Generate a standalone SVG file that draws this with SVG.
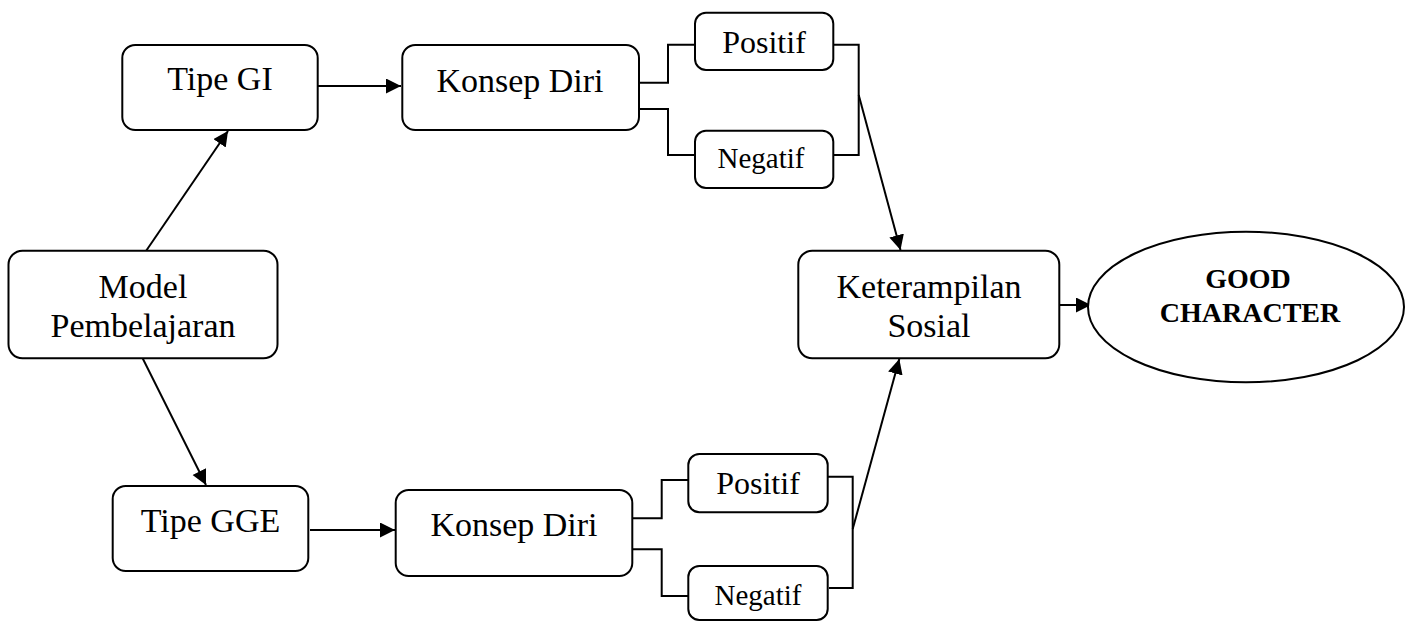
<svg xmlns="http://www.w3.org/2000/svg" width="1405" height="621" viewBox="0 0 1405 621">
<style>
.box{fill:#fff;stroke:#000;stroke-width:2}
.t{font-family:"Liberation Serif","Times New Roman",serif;font-size:34px;fill:#000;text-anchor:middle}
.s{font-size:32px}
.n{font-size:29px}
.b{font-family:"Liberation Serif","Times New Roman",serif;font-size:28px;font-weight:bold;fill:#000;text-anchor:middle}
.ln{fill:none;stroke:#000;stroke-width:2}
</style>
<defs>
<marker id="ah" markerUnits="userSpaceOnUse" markerWidth="16" markerHeight="16" refX="15" refY="7.5" orient="auto">
<path d="M0,0 L15,7.5 L0,15 z" fill="#000"/>
</marker>
</defs>
<rect width="1405" height="621" fill="#fff"/>
<g id="connectors">
<line class="ln" x1="146" y1="251" x2="228" y2="131" marker-end="url(#ah)"/>
<line class="ln" x1="142" y1="357" x2="206" y2="485" marker-end="url(#ah)"/>
<line class="ln" x1="318" y1="86" x2="401" y2="86" marker-end="url(#ah)"/>
<line class="ln" x1="310" y1="530" x2="395" y2="530" marker-end="url(#ah)"/>
<path class="ln" d="M639,82.7 H668 V44.7 H695 M639,109 H668 V155 H695"/>
<path class="ln" d="M833,44.7 H858.7 V155 H834"/>
<line class="ln" x1="858.7" y1="95" x2="900.5" y2="250" marker-end="url(#ah)"/>
<path class="ln" d="M632,518.3 H661.7 V480 H688 M632,549.3 H661.7 V596 H688"/>
<path class="ln" d="M828,476.7 H852.7 V588 H829"/>
<line class="ln" x1="852.7" y1="529" x2="899.3" y2="359" marker-end="url(#ah)"/>
<line class="ln" x1="1059" y1="305" x2="1091" y2="305" marker-end="url(#ah)"/>
</g>
<g id="model">
<rect class="box" x="8.5" y="250.7" width="269" height="107.6" rx="14"/>
<text class="t" x="143" y="297.7">Model</text>
<text class="t" x="143" y="337.3">Pembelajaran</text>
</g>
<g id="tipe-gi">
<rect class="box" x="122.3" y="45" width="195.4" height="85" rx="13"/>
<text class="t" x="220" y="90">Tipe GI</text>
</g>
<g id="konsep-top">
<rect class="box" x="402.3" y="45" width="236.7" height="85" rx="13"/>
<text class="t" x="520" y="91.7">Konsep Diri</text>
</g>
<g id="positif-top">
<rect class="box" x="695" y="12.7" width="138.3" height="57.3" rx="11"/>
<text class="t s" x="764" y="53.3">Positif</text>
</g>
<g id="negatif-top">
<rect class="box" x="695" y="130.7" width="138.3" height="57.3" rx="11"/>
<text class="t n" x="761" y="168.3">Negatif</text>
</g>
<g id="tipe-gge">
<rect class="box" x="112.7" y="486" width="195.6" height="85" rx="13"/>
<text class="t" x="210.5" y="531.7">Tipe GGE</text>
</g>
<g id="konsep-bottom">
<rect class="box" x="395.7" y="490" width="236.6" height="86" rx="13"/>
<text class="t" x="514" y="535.7">Konsep Diri</text>
</g>
<g id="positif-bottom">
<rect class="box" x="688.3" y="454" width="139.4" height="58.3" rx="11"/>
<text class="t s" x="758" y="494.3">Positif</text>
</g>
<g id="negatif-bottom">
<rect class="box" x="688.3" y="566" width="139.4" height="54" rx="11"/>
<text class="t n" x="758" y="605">Negatif</text>
</g>
<g id="keterampilan">
<rect class="box" x="798.3" y="250.7" width="261" height="107.6" rx="14"/>
<text class="t" x="929" y="297.7">Keterampilan</text>
<text class="t" x="929" y="337.3">Sosial</text>
</g>
<g id="good-character">
<ellipse class="box" cx="1246" cy="307" rx="158" ry="75.3"/>
<text class="b" x="1248" y="288.3">GOOD</text>
<text class="b" x="1250" y="321.7">CHARACTER</text>
</g>
</svg>
